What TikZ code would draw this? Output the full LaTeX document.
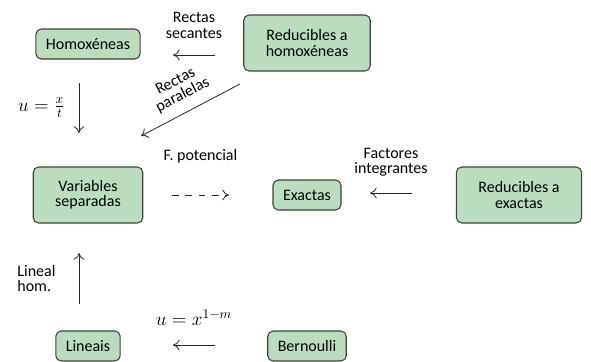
\documentclass[tikz,border=0pt]{standalone}
\usepackage{amsmath}
\usepackage{fontspec}
\setmainfont{Carlito}
\usetikzlibrary{arrows.meta,calc}
\definecolor{verdecaixa}{RGB}{187,220,190}

\begin{document}
\begin{tikzpicture}[x=0.75pt,y=-0.75pt,
  caixa/.style={draw=black!75,line width=0.8pt,fill=verdecaixa,rounded corners=4pt,
    align=center,inner xsep=7.5pt,minimum height=22.5pt,
    font=\fontsize{12}{11.5}\selectfont},
  dobre/.style={minimum height=42pt,inner xsep=16.5pt},
  frecha/.style={-{To[length=5pt,width=8pt]},line width=0.6pt,black!85},
  etiqueta/.style={align=center,font=\fontsize{12}{11.5}\selectfont},
  formula/.style={font=\fontsize{14.4}{17}\selectfont}]
  \useasboundingbox (0,0) rectangle (591,361);
  % caixas
  \node[caixa] (homo) at (88,44) {Homoxéneas};
  \node[caixa,dobre] (redhomo) at (307,43) {Reducibles a\\homoxéneas};
  \node[caixa,dobre] (varsep) at (88,195) {Variables\\separadas};
  \node[caixa] (exactas) at (307,195) {Exactas};
  \node[caixa,dobre] (redexac) at (519,195) {Reducibles a\\exactas};
  \node[caixa] (lineais) at (88,346) {Lineais};
  \node[caixa] (bern) at (307,346) {Bernoulli};
  % frechas
  \draw[frecha] ([shift={(-92,12)}]redhomo.center) -- ([shift={(85,11)}]homo.center)
    node[etiqueta,black,midway,above=9pt] {Rectas\\secantes};
  \draw[frecha] ([shift={(-67,41)}]redhomo.center) -- ([shift={(53,-59)}]varsep.center)
    node[etiqueta,black,midway,sloped,above=4pt] {Rectas\\paralelas};
  \draw[frecha] ([shift={(-9,39)}]homo.center) -- ([shift={(-9,-62)}]varsep.center)
    node[formula,black,midway,left=7pt] {$u=\frac{x}{t}$};
  \draw[frecha,dash pattern=on 5pt off 5pt] ([shift={(84,0)}]varsep.center) -- ([shift={(-78,0)}]exactas.center)
    node[etiqueta,black,midway,above=20pt] {F. potencial};
  \draw[frecha] ([shift={(-107,-2)}]redexac.center) -- ([shift={(63,-2)}]exactas.center)
    node[etiqueta,black,midway,above=9pt] {Factores\\integrantes};
  \draw[frecha] ([shift={(-9,-42)}]lineais.center) -- ([shift={(-9,58)}]varsep.center)
    node[etiqueta,black,midway,left=14pt,align=left] {Lineal\\hom.};
  \draw[frecha] ([shift={(-92,-1)}]bern.center) -- ([shift={(85,-1)}]lineais.center)
    node[formula,black,midway,above=11pt] {$u=x^{1-m}$};
\end{tikzpicture}
\end{document}
